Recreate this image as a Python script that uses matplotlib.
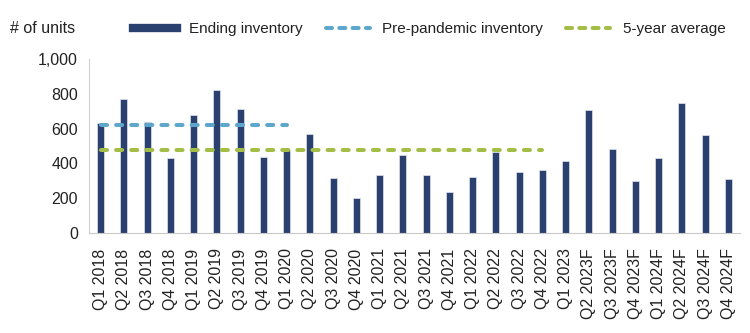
import matplotlib
matplotlib.use("Agg")
import matplotlib.pyplot as plt
from matplotlib.lines import Line2D

plt.rcParams['font.family'] = ['Liberation Sans', 'DejaVu Sans']

quarters = ["Q1 2018", "Q2 2018", "Q3 2018", "Q4 2018",
            "Q1 2019", "Q2 2019", "Q3 2019", "Q4 2019",
            "Q1 2020", "Q2 2020", "Q3 2020", "Q4 2020",
            "Q1 2021", "Q2 2021", "Q3 2021", "Q4 2021",
            "Q1 2022", "Q2 2022", "Q3 2022", "Q4 2022",
            "Q1 2023", "Q2 2023F", "Q3 2023F", "Q4 2023F",
            "Q1 2024F", "Q2 2024F", "Q3 2024F", "Q4 2024F"]
ending_inventory = [635, 769, 640, 429, 679, 819, 713, 438,
                    477, 567, 317, 202, 333, 448, 333, 237,
                    323, 463, 348, 363, 413, 704, 485, 298,
                    429, 746, 563, 308]
pre_pandemic_value = 621
pre_pandemic_span = ("Q1 2018", "Q1 2020")
five_year_avg_value = 477
five_year_span = ("Q1 2018", "Q4 2022")

bar_color = "#2a4170"
pre_color = "#5ea6cc"
avg_color = "#a3bd47"
text_color = "#222222"

fig = plt.figure(figsize=(7.5, 3.33), dpi=100)
ax = fig.add_axes([0.1187, 0.300, 0.868, 0.523])

x = list(range(len(quarters)))
ax.bar(x, ending_inventory, width=0.3, color=bar_color, edgecolor="#dfe3ec", linewidth=0.5, zorder=2)

dash = (0, (1.5, 2.25))
i0, i1 = quarters.index(pre_pandemic_span[0]), quarters.index(pre_pandemic_span[1])
ax.plot([i0, i1], [pre_pandemic_value] * 2, color=pre_color, lw=2.9, ls=dash,
        dash_capstyle='round', zorder=3)
j0, j1 = quarters.index(five_year_span[0]), quarters.index(five_year_span[1])
ax.plot([j0, j1], [five_year_avg_value] * 2, color=avg_color, lw=2.9, ls=dash,
        dash_capstyle='round', zorder=3)

ax.set_xlim(-0.5, len(quarters) - 0.5)
ax.set_ylim(0, 1000)
ax.set_yticks(range(0, 1001, 200))
ax.set_yticklabels([f"{v:,}" for v in range(0, 1001, 200)], fontsize=11.5, color=text_color)
ax.set_xticks(x)
ax.set_xticklabels(quarters, rotation=90, fontsize=11.5, color=text_color)
ax.tick_params(axis='x', length=0, pad=11)
ax.tick_params(axis='y', length=0, pad=8)
for s in ['top', 'right']:
    ax.spines[s].set_visible(False)
ax.spines['left'].set_color("#d0d0d0")
ax.spines['bottom'].set_color("#c8c8c8")

fig.text(0.014, 0.913, "# of units", fontsize=11.5, color=text_color, va='center')

handles = [Line2D([0], [0], color=bar_color, lw=6),
           Line2D([0], [0], color=pre_color, lw=2.9, ls=(0, (1.5, 1.8)), dash_capstyle='round'),
           Line2D([0], [0], color=avg_color, lw=2.9, ls=(0, (1.5, 1.8)), dash_capstyle='round')]
leg = fig.legend(handles, ["Ending inventory", "Pre-pandemic inventory", "5-year average"],
                 loc='center left', bbox_to_anchor=(0.177, 0.913), ncol=3, frameon=False,
                 fontsize=11, handlelength=2.9, columnspacing=1.5, handletextpad=0.8,
                 borderpad=0, borderaxespad=0)
for t in leg.get_texts():
    t.set_color(text_color)

fig.savefig("out.png", dpi=100)
